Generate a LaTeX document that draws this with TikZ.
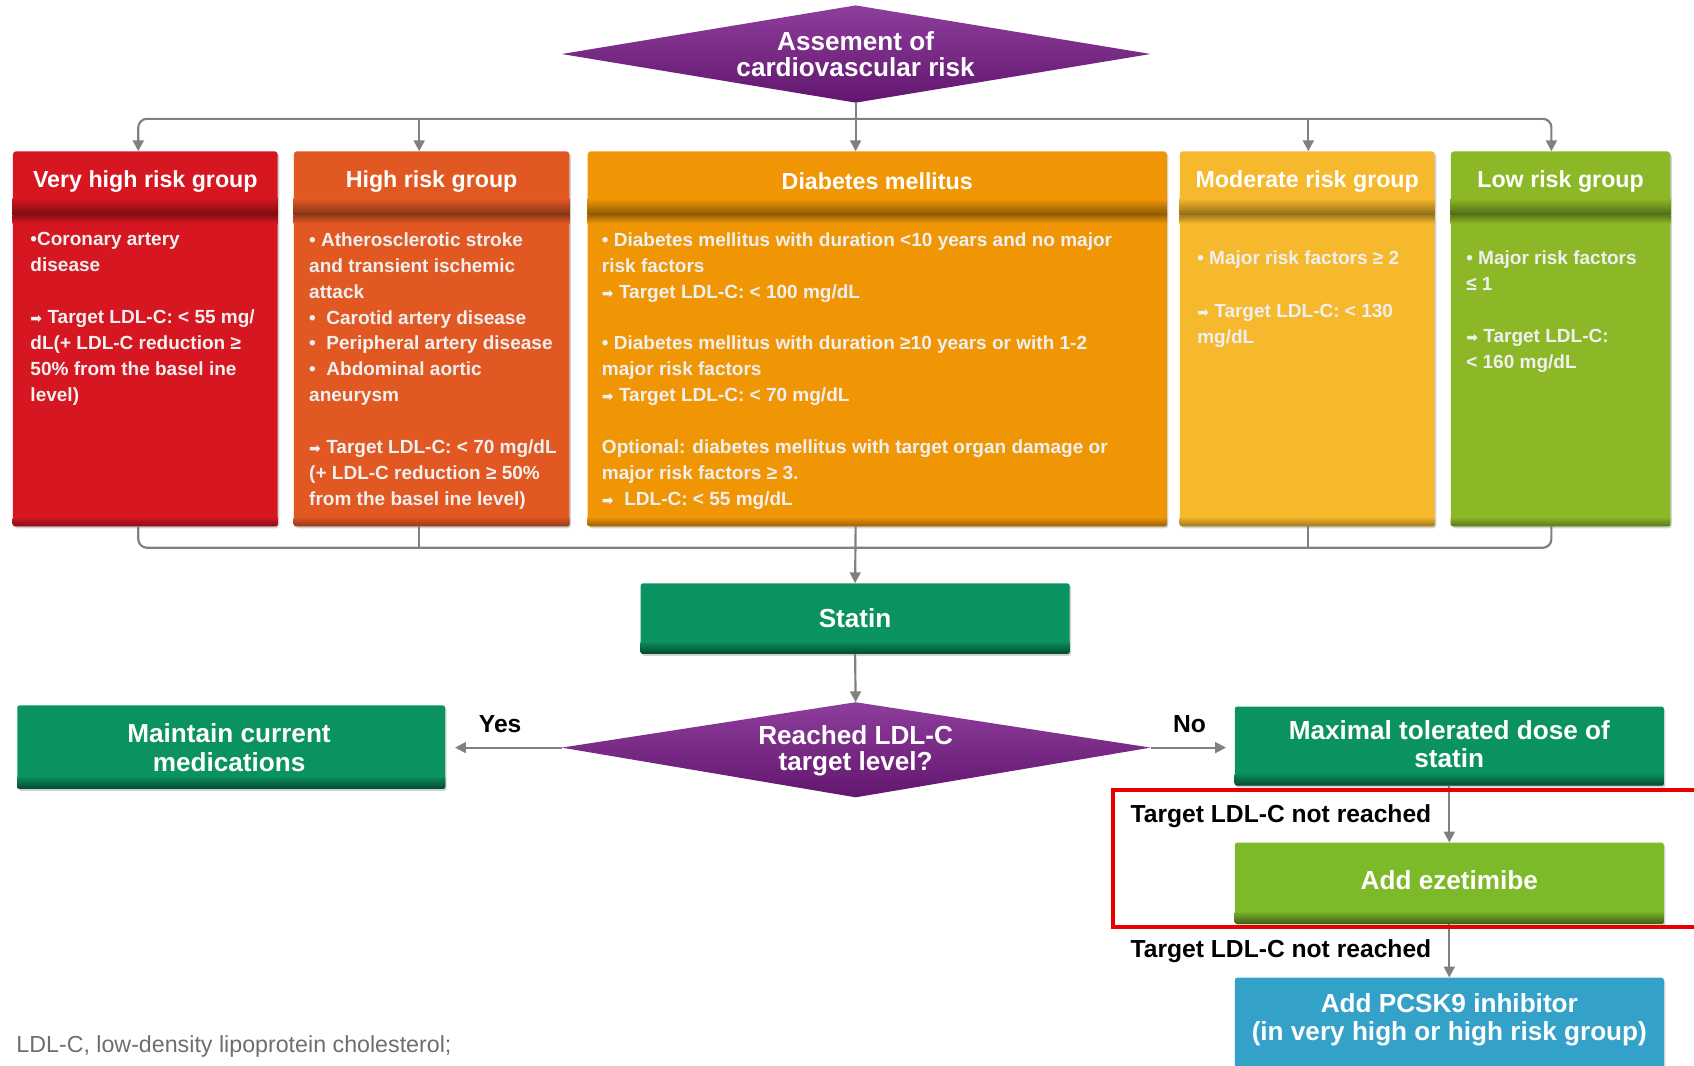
\documentclass[tikz,border=0pt]{standalone}
\usepackage{fontspec}
\setmainfont{Liberation Sans}
\newfontfamily\symf{DejaVu Sans}
\usetikzlibrary{arrows.meta,shadows,calc}

\definecolor{cVH}{RGB}{214,22,32}
\definecolor{cHI}{RGB}{226,88,34}
\definecolor{cDM}{RGB}{240,150,5}
\definecolor{cMO}{RGB}{246,184,44}
\definecolor{cLO}{RGB}{140,184,40}
\definecolor{cGR}{RGB}{10,146,96}
\definecolor{cEZ}{RGB}{125,186,42}
\definecolor{cPC}{RGB}{52,162,200}
\definecolor{cPU}{RGB}{122,28,138}
\definecolor{cLN}{RGB}{128,128,128}
\definecolor{cFN}{RGB}{110,110,110}

\newcommand{\ar}{{\symf\fontsize{13}{13}\selectfont ➡}}
\newcommand{\grpbands}[2]{%
  \shade[top color=#2, bottom color=#2!55!black] ($(#1.north west)+(0pt,-44pt)$) rectangle ($(#1.north east)+(0pt,-60pt)$);
  \shade[top color=#2!70!black, bottom color=#2] ($(#1.north west)+(0pt,-60pt)$) rectangle ($(#1.north east)+(0pt,-67pt)$);
  \shade[rounded corners=2pt, top color=#2, bottom color=#2!65!black] ($(#1.south west)+(0pt,9pt)$) rectangle (#1.south east);
}
\newcommand{\boxband}[2]{%
  \shade[rounded corners=2pt, top color=#2, bottom color=#2!50!black] ($(#1.south west)+(0pt,12pt)$) rectangle (#1.south east);
}

\begin{document}
\begin{tikzpicture}[x=1pt,y=-1pt,
  grp/.style={rectangle, rounded corners=3pt, inner sep=0pt, draw=none,
    drop shadow={shadow xshift=1.5pt, shadow yshift=-2pt, opacity=0.35}},
  hdr/.style={text=white, font=\bfseries\fontsize{21.5}{24}\selectfont, inner sep=0pt},
  bod/.style={text=white!94!black, font=\bfseries\fontsize{17.6}{24}\selectfont, align=left, anchor=north west, inner sep=0pt},
  gbox/.style={rectangle, rounded corners=2pt, inner sep=0pt, draw=none,
    drop shadow={shadow xshift=1.5pt, shadow yshift=-2pt, opacity=0.35}},
  gtxt/.style={text=white, align=center, font=\bfseries\fontsize{24.2}{26}\selectfont, inner sep=0pt},
  dtxt/.style={text=white, align=center, font=\bfseries\fontsize{24.2}{24}\selectfont, inner sep=0pt},
  conn/.style={draw=cLN, line width=2pt},
  arr/.style={conn, -{Triangle[width=10pt,length=10pt]}},
  lbl/.style={font=\bfseries\fontsize{22.8}{24}\selectfont, text=black, inner sep=0pt}
]
\useasboundingbox (0,0) rectangle (1568,986);
\fill[white] (0,0) rectangle (1568,986);

% top diamond
\shade[top color=cPU!85!white, bottom color=cPU!80!black] (520,50) -- (792,5) -- (1065,50) -- (792,95) -- cycle;
\node[dtxt] (d1t) at (792,50) {Assement of\\cardiovascular risk};
\coordinate (d1s) at (792,95);

% group boxes
\node[grp, fill=cVH, minimum width=245pt, minimum height=347pt] (g1) at (134.5,313.5) {};
\node[grp, fill=cHI, minimum width=255pt, minimum height=347pt] (g2) at (399.5,313.5) {};
\node[grp, fill=cDM, minimum width=536pt, minimum height=347pt] (g3) at (812,313.5) {};
\node[grp, fill=cMO, minimum width=236pt, minimum height=347pt] (g4) at (1210,313.5) {};
\node[grp, fill=cLO, minimum width=203pt, minimum height=347pt] (g5) at (1444.5,313.5) {};
\grpbands{g1}{cVH}
\grpbands{g2}{cHI}
\grpbands{g3}{cDM}
\grpbands{g4}{cMO}
\grpbands{g5}{cLO}

\node[hdr] (g1h) at (134.5,168) {Very high risk group};
\node[hdr] (g2h) at (399.5,168) {High risk group};
\node[hdr] (g3h) at (812,168) {Diabetes mellitus};
\node[hdr] (g4h) at (1210,168) {Moderate risk group};
\node[hdr] (g5h) at (1444.5,168) {Low risk group};

\node[bod] (g1b) at (28,215) {•Coronary artery\\disease\\[24pt]
\ar\ Target LDL-C: < 55 mg/\\dL(+ LDL-C reduction ≥\\50\% from the basel ine\\level)};
\node[bod] (g2b) at (286,215) {• Atherosclerotic stroke\\and transient ischemic\\attack\\
•\ \ Carotid artery disease\\•\ \ Peripheral artery disease\\•\ \ Abdominal aortic\\aneurysm\\[24pt]
\ar\ Target LDL-C: < 70 mg/dL\\(+ LDL-C reduction ≥ 50\%\\from the basel ine level)};
\node[bod] (g3b) at (557,215) {• Diabetes mellitus with duration <10 years and no major\\risk factors\\
\ar\ Target LDL-C: < 100 mg/dL\\[24pt]
• Diabetes mellitus with duration ≥10 years or with 1-2\\major risk factors\\
\ar\ Target LDL-C: < 70 mg/dL\\[24pt]
Optional: diabetes mellitus with target organ damage or\\major risk factors ≥ 3.\\
\ar\ \ LDL-C: < 55 mg/dL};
\node[bod] (g4b) at (1108,232) {• Major risk factors ≥ 2\\[25pt]
\ar\ Target LDL-C: < 130\\mg/dL};
\node[bod] (g5b) at (1357,232) {• Major risk factors\\≤ 1\\[24pt]
\ar\ Target LDL-C:\\< 160 mg/dL};

% connector coordinates
\coordinate (bt) at (792,110);
\coordinate (a1) at (128,140);
\coordinate (a2) at (388,140);
\coordinate (a3) at (792,140);
\coordinate (a4) at (1211,140);
\coordinate (a5) at (1436,140);
\coordinate (b1) at (128,487);
\coordinate (b2) at (388,487);
\coordinate (b3) at (792,487);
\coordinate (b4) at (1211,487);
\coordinate (b5) at (1436,487);
\coordinate (bb) at (792,507);

\draw[arr] (d1s) -- (a3);
\draw[arr, rounded corners=8pt] (bt) -| (a1);
\draw[arr, rounded corners=8pt] (bt) -| (a5);
\draw[arr] (a2 |- bt) -- (a2);
\draw[arr] (a4 |- bt) -- (a4);

\draw[conn, rounded corners=8pt] (b1) |- (bb);
\draw[conn, rounded corners=8pt] (b5) |- (bb);
\draw[conn] (b2) -- (b2 |- bb);
\draw[conn] (b4) -- (b4 |- bb);

% statin
\node[gbox, fill=cGR, minimum width=397pt, minimum height=65pt] (statin) at (791.5,572.5) {};
\boxband{statin}{cGR}
\node[gtxt] (statint) at (791.5,572) {Statin};
\draw[arr] (b3) -- (statin.north);

% second diamond
\shade[top color=cPU!85!white, bottom color=cPU!80!black] (520,692) -- (792,650) -- (1065,692) -- (792,738) -- cycle;
\node[dtxt] (d2t) at (792,695) {Reached LDL-C\\target level?};
\coordinate (d2n) at (792,650);
\coordinate (d2w) at (520,692);
\coordinate (d2e) at (1065,692);
\draw[arr] (statin.south) -- (d2n);

% maintain
\node[gbox, fill=cGR, minimum width=396pt, minimum height=77pt] (maint) at (214,691.5) {};
\boxband{maint}{cGR}
\node[gtxt] (maintt) at (212,692) {Maintain current\\medications};

% maximal
\node[gbox, fill=cGR, minimum width=397pt, minimum height=73pt] (max) at (1341.5,690.5) {};
\boxband{max}{cGR}
\node[gtxt] (maxt) at (1341.5,689) {Maximal tolerated dose of\\statin};

\draw[arr, shorten >=9pt] (d2w) -- (maint.east |- d2w);
\draw[arr, shorten >=8pt] (d2e) -- (max.west |- d2e);
\node[lbl] (yes) at (463,670) {Yes};
\node[lbl] (no) at (1101,670) {No};

% ezetimibe
\node[gbox, fill=cEZ, minimum width=397pt, minimum height=75pt] (eze) at (1341.5,817.5) {};
\boxband{eze}{cEZ}
\node[gtxt] (ezet) at (1341.5,815) {Add ezetimibe};
\draw[arr] (max.south) -- (eze.north);
\node[lbl, anchor=east] (nr1) at (1325,755) {Target LDL-C not reached};

% PCSK9
\node[gbox, fill=cPC, minimum width=397pt, minimum height=86pt] (pcsk) at (1341.5,948) {};
\node[gtxt] (pcskt) at (1341.5,944) {Add PCSK9 inhibitor\\(in very high or high risk group)};
\draw[arr] (eze.south) -- (pcsk.north);
\node[lbl, anchor=east] (nr2) at (1325,880) {Target LDL-C not reached};

% red frame
\draw[draw={rgb,255:red,232;green,0;blue,0}, line width=3.5pt] (1568,731) -- (1030,731) -- (1030,858) -- (1568,858);

% footnote
\node[anchor=west, text=cFN, font=\fontsize{21.5}{24}\selectfont, inner sep=0pt] (fn) at (15,969) {LDL-C, low-density lipoprotein cholesterol;};
\end{tikzpicture}
\end{document}
